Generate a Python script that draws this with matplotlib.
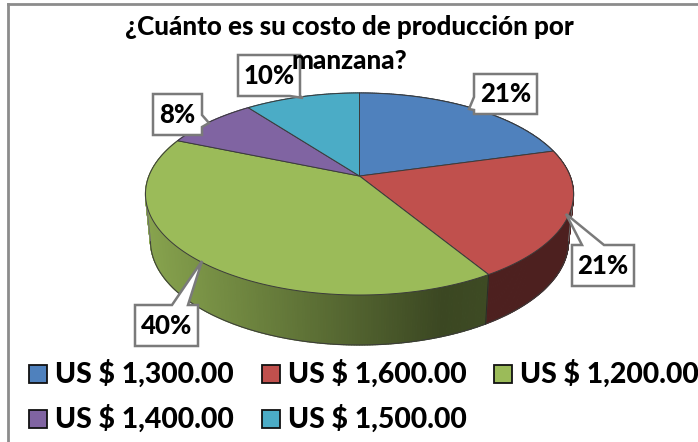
import numpy as np
import matplotlib
matplotlib.use("Agg")
import matplotlib.pyplot as plt
from matplotlib.patches import Polygon, Rectangle
from matplotlib.colors import to_rgb

title = "¿Cuánto es su costo de producción por\nmanzana?"
categories = ["US $ 1,300.00", "US $ 1,600.00", "US $ 1,200.00", "US $ 1,400.00", "US $ 1,500.00"]
shares = [20.7, 20.6, 40.0, 8.4, 10.3]
colors = ["#4F81BD", "#C0504D", "#9BBB59", "#8064A2", "#4BACC6"]
label_boxes = [(474, 74, 537, 114), (572, 245, 634, 286), (135, 305, 198, 346), (153, 94, 202, 135), (238, 55, 300, 96)]
plt.rcParams["font.family"] = ["Lato", "DejaVu Sans"]
W = 900

fig = plt.figure(figsize=(6.98, 4.42), dpi=100)
ax = fig.add_axes([0, 0, 1, 1])
ax.set_xlim(0, 698)
ax.set_ylim(442, 0)
ax.axis("off")

T = 0.178
def rim(theta, cx, cy, rx, ry, r=1.0):
    x, y = r * np.sin(theta), r * np.cos(theta)
    d = 1 + T * y
    return cx + rx * x * np.sqrt(1 - T**2) / d, cy - ry * (y + T) / d

TOP = (359.5, 194, 214, 101)
BOT = (359.5, 241, 209, 104)
fr = np.cumsum([0] + shares) / sum(shares) * 2 * np.pi

def side_color(i, x):
    base = np.array(to_rgb(colors[i]))
    u = np.interp(x, [146, 300, 440, 490, 573], [0.88, 0.62, 0.38, 0.40, 0.40])
    return tuple(base * u)

# sides
for i in range(len(shares)):
    th = np.linspace(fr[i], fr[i + 1], max(int(shares[i] * 6), 8))
    tx, ty = rim(th, *TOP)
    bx, by = rim(th, *BOT)
    for j in range(len(th) - 1):
        q = [(tx[j], ty[j]), (tx[j + 1], ty[j + 1]), (bx[j + 1], by[j + 1]), (bx[j], by[j])]
        c = side_color(i, (bx[j] + bx[j + 1]) / 2)
        ax.add_patch(Polygon(q, closed=True, fc=c, ec=c, lw=0.9, zorder=2))
    front = by >= BOT[1] - 1
    ax.plot(bx[front], by[front], color="#3a3a3a", lw=0.7, zorder=3)
    if by[0] >= BOT[1] - 1:
        ax.plot([tx[0], bx[0]], [ty[0], by[0]], color="#2a2a2a", lw=0.7, zorder=3)

# silhouette edges of the side wall
full = np.linspace(0, 2 * np.pi, 720)
fx, fy = rim(full, *TOP)
gx, gy = rim(full, *BOT)
for pick in (np.argmin, np.argmax):
    a, b = pick(fx), pick(gx)
    ax.plot([fx[a], gx[b]], [fy[a], gy[b]], color="#6f6f6f", lw=0.7, zorder=3)

# top face
apex = rim(0.0, *TOP, r=0.0)
for i in range(len(shares)):
    th = np.linspace(fr[i], fr[i + 1], 200)
    tx, ty = rim(th, *TOP)
    pts = [apex] + list(zip(tx, ty))
    ax.add_patch(Polygon(pts, closed=True, fc=colors[i], ec="#3b3b3b", lw=0.7, zorder=4))

# data labels with callouts
pointers = [
    [(474, 97), (469, 109), (474, 110)],
    [(582, 245), (566, 214), (604, 245)],
    [(172, 305), (202, 261), (188, 305)],
    [(202, 115), (209, 123), (202, 127)],
    [(290, 96), (303, 98), (300, 96)],
]
sides = ["left", "top", "top", "right", "bottom"]
for (x0, y0, x1, y1), s, ptr, side in zip(label_boxes, shares, pointers, sides):
    if side == "left":
        pts = [(x0, y0), (x1, y0), (x1, y1), (x0, y1), ptr[2], ptr[1], ptr[0]]
    elif side == "top":
        pts = [(x0, y0)] + ptr + [(x1, y0), (x1, y1), (x0, y1)]
    elif side == "right":
        pts = [(x0, y0), (x1, y0)] + ptr + [(x1, y1), (x0, y1)]
    else:
        pts = [(x0, y0), (x1, y0), ptr[2], ptr[1], ptr[0], (x0, y1)]
    ax.add_patch(Polygon(pts, closed=True, fc="white", ec="#7a7a7a", lw=1.8, joinstyle="miter", zorder=5))
    ax.text((x0 + x1) / 2, (y0 + y1) / 2 + 0.5, f"{s:.0f}%", ha="center", va="center", fontsize=18.5,
            fontweight=W, color="black", zorder=6)

# title
ax.text(349, 27, title.split("\n")[0], ha="center", va="center", fontsize=18.7, fontweight=W, color="black", zorder=7)
ax.text(349, 61, title.split("\n")[1], ha="center", va="center", fontsize=18.7, fontweight=W, color="black", zorder=7)

# legend
swatch_x = [29, 262, 494, 29, 262]
swatch_y = [365, 365, 365, 410, 410]
for c, name, sx, sy in zip(colors, categories, swatch_x, swatch_y):
    ax.add_patch(Rectangle((sx, sy), 18, 18, fc=c, ec="#111111", lw=1.3, zorder=5))
    ax.text(sx + 26, sy + 8.5, name, ha="left", va="center", fontsize=20.4, fontweight=W, color="black", zorder=6, clip_on=False)

# chart frame
ax.plot([8, 8], [442, 4], color="#8c8c8c", lw=2, zorder=1)
ax.plot([8, 698], [4, 4], color="#8c8c8c", lw=2, zorder=1)

fig.savefig("out.png", dpi=100, facecolor="white")
